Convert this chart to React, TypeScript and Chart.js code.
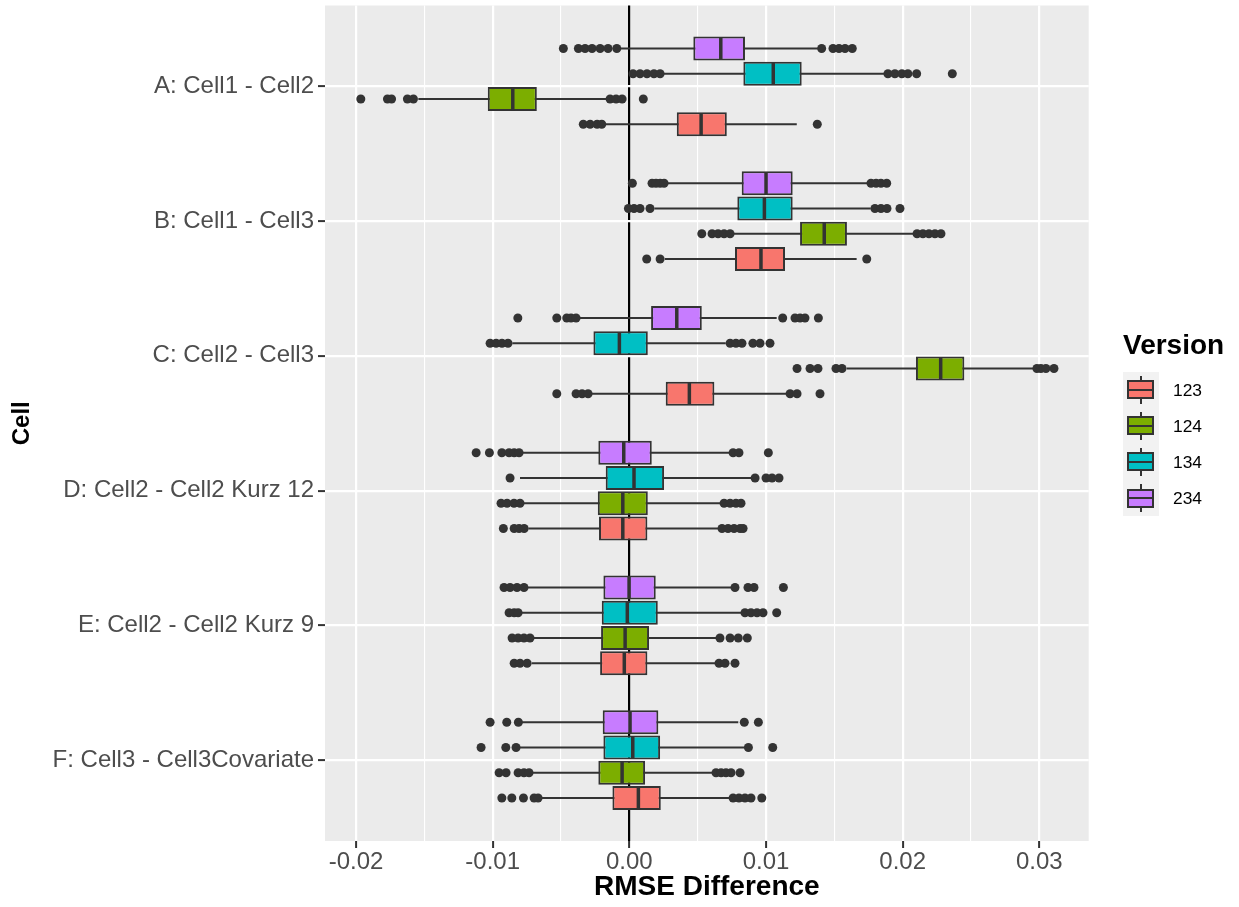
import React, { useEffect, useRef } from 'react';
import { Chart, registerables } from 'chart.js';

Chart.register(...registerables);

const FONT = '"Liberation Sans", Arial, Helvetica, sans-serif';

// ---------- data ----------
const cells = [
  'A: Cell1 - Cell2',
  'B: Cell1 - Cell3',
  'C: Cell2 - Cell3',
  'D: Cell2 - Cell2 Kurz 12',
  'E: Cell2 - Cell2 Kurz 9',
  'F: Cell3 - Cell3Covariate',
];
const versions = ['123', '124', '134', '234'];
const versionColors = ['#F8766D', '#7CAE00', '#00BFC4', '#C77CFF'];
// dodge offsets (in category units) of each version inside a cell, 123 lowest
const versionOffsets = [0.28125, 0.09375, -0.09375, -0.28125];

const xTickValues = [-0.02, -0.015, -0.01, -0.005, 0, 0.005, 0.01, 0.015, 0.02, 0.025, 0.03];
const xTickLabels = ['-0.02', '', '-0.01', '', '0.00', '', '0.01', '', '0.02', '', '0.03'];

// rows: version 123, 124, 134, 234 ; columns: cells A..F
const lowerWhisker = [
  [-0.00178, 0.0026, -0.00275, -0.00739, -0.00714, -0.00653],
  [-0.01544, 0.00761, 0.0159, -0.00775, -0.00714, -0.00726],
  [0.00247, 0.00183, -0.00856, -0.008, -0.008, -0.00812],
  [-0.00068, 0.00274, -0.00373, -0.00787, -0.00751, -0.00787],
];
const q1Values = [
  [0.00347, 0.00773, 0.00266, -0.00222, -0.00214, -0.00124],
  [-0.01036, 0.01249, 0.02097, -0.00231, -0.00207, -0.00227],
  [0.00834, 0.0079, -0.00263, -0.00173, -0.00202, -0.0019],
  [0.00468, 0.00822, 0.00159, -0.00227, -0.0019, -0.00195],
];
const medianValues = [
  [0.00525, 0.00963, 0.00439, -0.00048, -0.00037, 0.00066],
  [-0.00853, 0.01426, 0.02278, -0.00048, -0.00031, -0.00053],
  [0.01053, 0.00988, -0.00073, 0.00034, -0.00015, 0.00025],
  [0.00669, 0.01, 0.00347, -0.00041, -0.00002, 0.00005],
];
const q3Values = [
  [0.00713, 0.01139, 0.00622, 0.00132, 0.00132, 0.0023],
  [-0.00677, 0.01592, 0.02451, 0.00135, 0.00144, 0.00115],
  [0.01261, 0.01195, 0.00135, 0.00254, 0.00208, 0.00225],
  [0.00846, 0.01195, 0.0053, 0.00164, 0.00193, 0.00212],
];
const upperWhisker = [
  [0.01225, 0.01663, 0.01151, 0.00651, 0.00634, 0.00737],
  [-0.00165, 0.02078, 0.02955, 0.00664, 0.00644, 0.00614],
  [0.0187, 0.01766, 0.00705, 0.00895, 0.00822, 0.00859],
  [0.0138, 0.01748, 0.01078, 0.00737, 0.00749, 0.00797],
];
const outliers123 = [
  [-0.00337, -0.00287, -0.00236, -0.00202, 0.01375],
  [0.00127, 0.00225, 0.01737],
  [-0.00531, -0.0039, -0.00346, -0.00302, 0.01176, 0.01227, 0.01395],
  [-0.00922, -0.00843, -0.00807, -0.0077, 0.00678, 0.00722, 0.00766, 0.0081, 0.00832],
  [-0.00843, -0.008, -0.00748, 0.00656, 0.007, 0.00773],
  [-0.00933, -0.0086, -0.00775, -0.00697, -0.00668, 0.00759, 0.00802, 0.00846, 0.0089, 0.00969],
];
const outliers124 = [
  [-0.01965, -0.0177, -0.0174, -0.01624, -0.0158, -0.00141, -0.00097, -0.00053, 0.00102],
  [0.0053, 0.00605, 0.00649, 0.00693, 0.00737, 0.02105, 0.02148, 0.02192, 0.02236, 0.0228],
  [0.01227, 0.01322, 0.0138, 0.01512, 0.01556, 0.02982, 0.03011, 0.03048, 0.03107],
  [-0.00939, -0.00895, -0.00844, -0.008, 0.00693, 0.00737, 0.0078, 0.00817],
  [-0.00858, -0.00814, -0.00771, -0.00727, 0.00663, 0.00737, 0.00797, 0.00863],
  [-0.00953, -0.00902, -0.00814, -0.00771, -0.00734, 0.00634, 0.00671, 0.00707, 0.00744, 0.0081],
];
const outliers134 = [
  [0.00027, 0.00078, 0.00129, 0.0018, 0.00225, 0.01892, 0.01943, 0.01994, 0.02038, 0.02102, 0.02363],
  [-0.00007, 0.00034, 0.00078, 0.00151, 0.01797, 0.01841, 0.01885, 0.0198],
  [-0.01019, -0.00975, -0.00932, -0.00888, 0.00737, 0.0078, 0.00824, 0.00904, 0.00956, 0.01029],
  [-0.00873, 0.0092, 0.01, 0.01044, 0.01095],
  [-0.0088, -0.00843, -0.00814, 0.00846, 0.0089, 0.00934, 0.00978, 0.01078],
  [-0.01085, -0.00904, -0.00829, 0.00871, 0.01049],
];
const outliers234 = [
  [-0.00483, -0.00373, -0.00324, -0.00273, -0.00214, -0.00156, -0.00092, 0.01407, 0.0149, 0.01534, 0.01578, 0.01631],
  [0.00022, 0.00166, 0.00195, 0.00225, 0.00254, 0.01768, 0.01805, 0.01841, 0.01883],
  [-0.00816, -0.00531, -0.00458, -0.00427, -0.0039, 0.01122, 0.01212, 0.01249, 0.01285, 0.01383],
  [-0.01121, -0.01024, -0.00933, -0.0088, -0.00843, -0.00807, 0.00759, 0.00802, 0.01017],
  [-0.00917, -0.00873, -0.00822, -0.00771, 0.00773, 0.00868, 0.00912, 0.01127],
  [-0.01019, -0.00897, -0.00812, 0.00841, 0.00944],
];
const outlierValues = [outliers123, outliers124, outliers134, outliers234];

// ---------- layout constants ----------
const BOX_FRACTION = 0.95; // of the dodge slot
const DODGE = 0.1875;
const MEDIAN_HALF = (DODGE * BOX_FRACTION) / 2 - 0.006;
const X_MIN = -0.02227;
const X_MAX = 0.03361;

const yPos = (v: number, c: number) => c + 1 + versionOffsets[v];

const panelBackground = {
  id: 'panelBackground',
  beforeDraw(chart: any) {
    const { ctx, chartArea: a } = chart;
    ctx.save();
    ctx.fillStyle = '#EBEBEB';
    ctx.fillRect(a.left, a.top, a.right - a.left, a.bottom - a.top);
    ctx.restore();
  },
};

function Legend() {
  const keyTop = 371.7;
  const keyH = 36.08;
  return (
    <>
      <div
        style={{
          position: 'absolute', left: 1123, top: 331, fontFamily: FONT, fontWeight: 'bold',
          fontSize: 28, lineHeight: '28px', color: '#000', whiteSpace: 'nowrap',
        }}
      >
        Version
      </div>
      <div
        style={{
          position: 'absolute', left: 1122.7, top: keyTop, width: 36.3, height: keyH * 4,
          background: '#F2F2F2',
        }}
      />
      {versions.map((ver, i) => {
        const t = keyTop + keyH * i;
        return (
          <React.Fragment key={ver}>
            <div style={{ position: 'absolute', left: 1139.5, top: t + 4, width: 2, height: keyH - 8, background: '#333333' }} />
            <div
              style={{
                position: 'absolute', left: 1126.7, top: t + 8.6, width: 27.6, height: 19,
                boxSizing: 'border-box', border: '2px solid #333333', background: versionColors[i],
              }}
            />
            <div style={{ position: 'absolute', left: 1128.7, top: t + 17.1, width: 23.6, height: 2, background: '#333333' }} />
            <div
              style={{
                position: 'absolute', left: 1173, top: t + 9.8, fontFamily: FONT, fontSize: 17.4,
                lineHeight: '17.4px', color: '#000', whiteSpace: 'nowrap',
              }}
            >
              {ver}
            </div>
          </React.Fragment>
        );
      })}
    </>
  );
}

export default function App() {
  const canvasRef = useRef<HTMLCanvasElement>(null);

  useEffect(() => {
    document.body.style.margin = '0';
    const canvas = canvasRef.current;
    if (!canvas) return;

    const boxDatasets = versions.map((ver, v) => ({
      type: 'bar' as const,
      label: ver,
      indexAxis: 'y' as const,
      grouped: false,
      data: cells.map((_, c) => ({ y: yPos(v, c), x: [q1Values[v][c], q3Values[v][c]] })),
      backgroundColor: versionColors[v],
      borderColor: '#333333',
      borderWidth: 2,
      borderSkipped: false,
      barPercentage: BOX_FRACTION,
      categoryPercentage: 1,
      order: 2,
    }));

    const whiskerData: any[] = [];
    const medianData: any[] = [];
    const outlierData: any[] = [];
    versions.forEach((_, v) => {
      cells.forEach((__, c) => {
        const y = yPos(v, c);
        whiskerData.push({ x: lowerWhisker[v][c], y }, { x: upperWhisker[v][c], y }, { x: null, y: null });
        medianData.push(
          { x: medianValues[v][c], y: y - MEDIAN_HALF },
          { x: medianValues[v][c], y: y + MEDIAN_HALF },
          { x: null, y: null },
        );
        outlierValues[v][c].forEach((o) => outlierData.push({ x: o, y }));
      });
    });

    const chart = new Chart(canvas, {
      type: 'scatter',
      data: {
        datasets: [
          {
            type: 'scatter',
            label: 'whiskers',
            data: whiskerData,
            showLine: true,
            spanGaps: false,
            borderColor: '#333333',
            borderWidth: 2,
            pointRadius: 0,
            order: 3,
          } as any,
          ...(boxDatasets as any[]),
          {
            type: 'scatter',
            label: 'medians',
            data: medianData,
            showLine: true,
            spanGaps: false,
            borderColor: '#333333',
            borderWidth: 3.5,
            pointRadius: 0,
            order: 1,
          } as any,
          {
            type: 'scatter',
            label: 'outliers',
            data: outlierData,
            pointRadius: 4.5,
            pointBackgroundColor: '#333333',
            pointBorderWidth: 0,
            order: 0,
          } as any,
        ],
      },
      options: {
        animation: false,
        responsive: false,
        maintainAspectRatio: false,
        devicePixelRatio: 1,
        events: [],
        layout: { padding: { left: 0, right: 150.3, top: 5.5, bottom: 0 } },
        plugins: { legend: { display: false }, tooltip: { enabled: false }, title: { display: false } },
        scales: {
          x: {
            type: 'linear',
            position: 'bottom',
            min: X_MIN,
            max: X_MAX,
            offset: false,
            afterBuildTicks: (scale: any) => {
              scale.ticks = xTickValues.map((value) => ({ value }));
            },
            afterFit: (scale: any) => {
              scale.height = 66;
              scale.paddingLeft = 0;
              scale.paddingRight = 0;
              scale.paddingTop = 0;
              scale.paddingBottom = 0;
            },
            ticks: {
              autoSkip: false,
              maxRotation: 0,
              padding: 0,
              color: '#4D4D4D',
              font: { family: FONT, size: 24 },
              callback: (value: any) => {
                const i = xTickValues.findIndex((t) => Math.abs(t - Number(value)) < 1e-9);
                return i >= 0 ? xTickLabels[i] : '';
              },
            },
            grid: {
              offset: false,
              drawTicks: true,
              tickLength: 7,
              color: (ctx: any) => (ctx.tick && Math.abs(ctx.tick.value) < 1e-9 ? '#000000' : '#FFFFFF'),
              lineWidth: (ctx: any) => {
                if (ctx.tick && Math.abs(ctx.tick.value) < 1e-9) return 2.2;
                return ctx.index % 2 === 0 ? 2.2 : 1.1;
              },
              tickColor: (ctx: any) => (ctx.index % 2 === 0 ? '#333333' : 'rgba(0,0,0,0)'),
              tickWidth: 2,
            },
            border: { display: false },
            title: {
              display: true,
              text: 'RMSE Difference',
              color: '#000000',
              font: { family: FONT, size: 28, weight: 'bold', lineHeight: 1.2 },
              padding: { top: 0, bottom: 2.5 },
            },
          },
          y: {
            type: 'linear',
            position: 'left',
            min: 0.4,
            max: 6.6,
            reverse: true,
            offset: false,
            afterBuildTicks: (scale: any) => {
              scale.ticks = cells.map((_, i) => ({ value: i + 1 }));
            },
            afterFit: (scale: any) => {
              scale.width = 325;
              scale.paddingLeft = 0;
              scale.paddingRight = 0;
              scale.paddingTop = 0;
              scale.paddingBottom = 0;
            },
            ticks: {
              autoSkip: false,
              padding: 4,
              color: '#4D4D4D',
              font: { family: FONT, size: 24 },
              callback: (value: any) => cells[Math.round(Number(value)) - 1] ?? '',
            },
            grid: {
              offset: false,
              drawTicks: true,
              tickLength: 7,
              color: '#FFFFFF',
              lineWidth: 2.2,
              tickColor: '#333333',
              tickWidth: 2,
            },
            border: { display: false },
            title: {
              display: true,
              text: 'Cell',
              color: '#000000',
              font: { family: FONT, size: 24, weight: 'bold', lineHeight: 1.2 },
              padding: { top: 8, bottom: 0 },
            },
          },
        },
      } as any,
      plugins: [panelBackground],
    });

    return () => chart.destroy();
  }, []);

  return (
    <div style={{ position: 'relative', width: 1239, height: 907, background: '#FFFFFF', overflow: 'hidden' }}>
      <canvas
        ref={canvasRef}
        width={1239}
        height={907}
        style={{ position: 'absolute', left: 0, top: 0, width: 1239, height: 907 }}
      />
      <Legend />
    </div>
  );
}
